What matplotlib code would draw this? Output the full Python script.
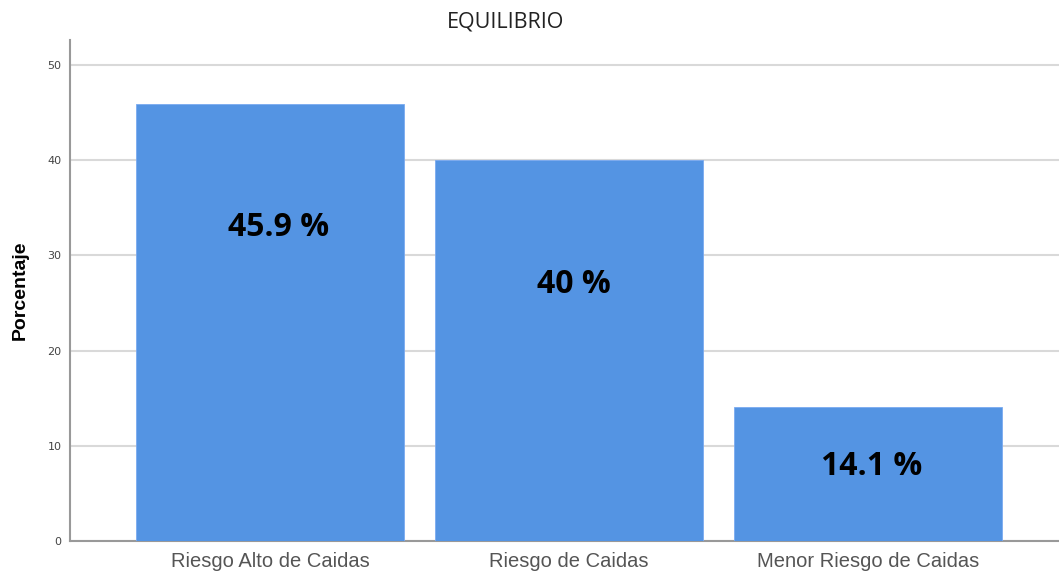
import matplotlib
matplotlib.use("Agg")
import matplotlib.pyplot as plt

categories = ["Riesgo Alto de Caidas", "Riesgo de Caidas", "Menor Riesgo de Caidas"]
values = [45.9, 40.0, 14.1]
value_labels = ["45.9 %", "40 %", "14.1 %"]
label_offsets_px = [(9, -124), (5, -124), (4, -60)]
yticks = [0, 10, 20, 30, 40, 50]

fig = plt.figure(figsize=(10.59, 5.73), dpi=100)
ax = fig.add_axes([70/1059, 32/573, 1 - 70/1059, (541-40)/573])

x = list(range(len(categories)))
ax.bar(x, values, width=0.896, color="#5494E3", edgecolor="#7aaaf0", linewidth=0.6, zorder=3)

ax.set_xlim(-0.669, 2.639)
ax.set_ylim(0, 52.6)
ax.set_yticks(yticks)
ax.set_yticklabels([str(t) for t in yticks], fontsize=8, color="#444444", family="DejaVu Sans")
ax.set_xticks(x)
ax.set_xticklabels(categories, fontsize=14.5, color="#555555", family="Liberation Sans")
ax.tick_params(axis="both", length=0, pad=8)
ax.tick_params(axis="y", pad=6)
ax.grid(axis="y", color="#d9d9d9", linewidth=1.5, zorder=0)

for s in ["top", "right"]:
    ax.spines[s].set_visible(False)
for s in ["left", "bottom"]:
    ax.spines[s].set_color("#999999")
    ax.spines[s].set_linewidth(1.5)

ax.set_ylabel("Porcentaje", fontsize=14, fontweight="bold", family="Liberation Sans")
ax.yaxis.set_label_coords(-41/989, 0.5)

for xi, v, lab, (dx, dy) in zip(x, values, value_labels, label_offsets_px):
    ax.annotate(lab, (xi, v), xytext=(dx * 72 / 100, dy * 72 / 100), textcoords="offset points",
                ha="center", va="center", fontsize=23, fontweight="bold",
                family="Open Sans", color="black")

fig.text(506/1059, 1 - 22/573, "EQUILIBRIO", ha="center", va="center",
         fontsize=15.5, family="Open Sans", color="#222222")

fig.savefig("out.png", dpi=100)
